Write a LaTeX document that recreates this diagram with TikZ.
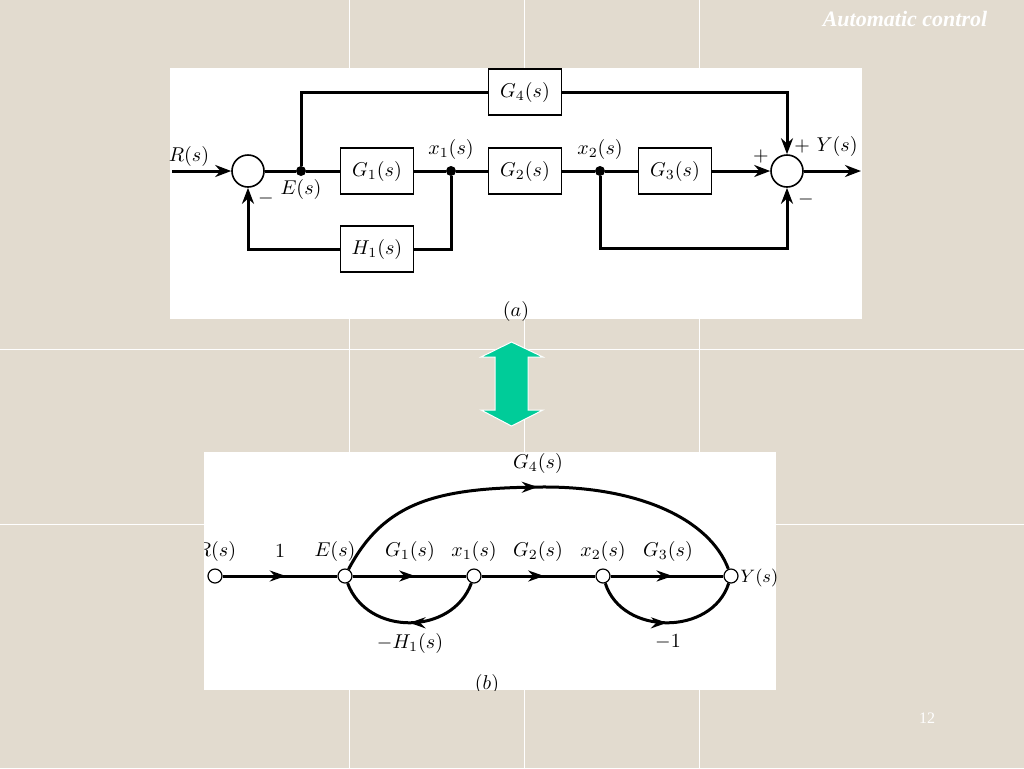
\documentclass[tikz,border=0pt]{standalone}
\usepackage{amsmath, amssymb}
\usepackage{fontspec}
\newfontfamily\slidefont{Liberation Serif}
\usetikzlibrary{arrows.meta,decorations.markings}
\definecolor{slidebg}{RGB}{226,219,207}
\definecolor{arrowgreen}{RGB}{0,204,153}
\tikzset{
  every node/.style={font=\fontsize{10}{12}\selectfont},
  block/.style={draw,line width=0.9pt,minimum width=36.5pt,minimum height=23pt,inner sep=0pt},
  sumjn/.style={draw,circle,line width=0.8pt,minimum size=16pt,inner sep=0pt},
  dotjn/.style={circle,fill,minimum size=5pt,inner sep=0pt},
  sig/.style={line width=1.5pt},
  arr/.style={sig,-{Stealth[length=8pt,width=6pt]}},
  sfnode/.style={draw,circle,fill=white,line width=0.6pt,minimum size=7pt,inner sep=0pt},
  branch/.style={sig,postaction={decorate},
    decoration={markings,mark=at position #1 with {\arrow{Stealth[length=8pt,width=5.5pt]}}}},
  branch/.default=0.55
}
\begin{document}
\begin{tikzpicture}[x=0.5pt,y=-0.5pt]
\useasboundingbox (0,0) rectangle (1024,768);
% slide background
\fill[slidebg] (0,0) rectangle (1024,768);
\draw[white,line width=0.4pt] (349,0) -- (349,768) (524,0) -- (524,768) (699,0) -- (699,768)
	(0,349) -- (1024,349) (0,524) -- (1024,524);
\path (905,19) node(title) {\slidefont\fontsize{11}{13}\selectfont\bfseries\itshape\color{white}Automatic control}
	(927,718) node(page) {\slidefont\fontsize{8}{10}\selectfont\color{white}12};

% (a) block diagram
\fill[white] (170,68) rectangle (862,319);
\path (248,171) node[sumjn](s1) {}
	(301,171) node[dotjn](e) {}
	(377,171) node[block](g1) {$G_1(s)$}
	(451,171) node[dotjn](x1) {}
	(525,171) node[block](g2) {$G_2(s)$}
	(600,171) node[dotjn](x2) {}
	(675,171) node[block](g3) {$G_3(s)$}
	(787,171) node[sumjn](s2) {}
	(525,92) node[block](g4) {$G_4(s)$}
	(377,249) node[block](h1) {$H_1(s)$}
	;
\coordinate (rin) at (172,171);
\coordinate (yout) at (861,171);
\coordinate (fb2) at (787,248);
\draw[arr] (rin) -- (s1);
\draw[sig] (s1) -- (e) -- (g1);
\draw[sig] (g1) -- (x1) -- (g2) -- (x2) -- (g3);
\draw[arr] (g3) -- (s2);
\draw[arr] (s2) -- (yout);
\draw[sig] (e) |- (g4);
\draw[arr] (g4) -| (s2);
\draw[sig] (x1) |- (h1);
\draw[arr] (h1) -| (s1);
\draw[arr] (x2) |- (fb2) -- (s2);
\path (189,156) node(lR) {$R(s)$}
	(301,189) node(lE) {$E(s)$}
	(451,149) node(lx1) {$x_1(s)$}
	(600,149) node(lx2) {$x_2(s)$}
	(266,198) node(m1) {$-$}
	(761,156) node(p2) {$+$}
	(826,146) node(lY) {$+\ Y(s)$}
	(806,199) node(m2) {$-$}
	(516,311) node(la) {$(a)$};

% double arrow
\filldraw[fill=arrowgreen,draw=white,line width=0.5pt] (511.5,342) -- (543,357) -- (528,357) -- (528,410)
	-- (543,410) -- (511.5,426) -- (481,410) -- (495,410) -- (495,357) -- (481,357) -- cycle;

% (b) signal flow graph
\fill[white] (204,452) rectangle (776,690);
\begin{scope}
\clip (204,452) rectangle (776,690);
\path (215,576) node[sfnode](R) {}
	(345,576) node[sfnode](E) {}
	(474,576) node[sfnode](X1) {}
	(603,576) node[sfnode](X2) {}
	(731,576) node[sfnode](Y) {}
	;
\draw[branch] (R) -- (E);
\draw[branch] (E) -- (X1);
\draw[branch] (X1) -- (X2);
\draw[branch] (X2) -- (Y);
\draw[branch=0.5] (E) .. controls (385,500) and (440,488) .. (540,487)
	.. controls (640,486) and (710,520) .. (Y);
\draw[branch=0.5] (X1) .. controls (452,636) and (367,636) .. (E);
\draw[branch=0.5] (X2) .. controls (622,636) and (712,636) .. (Y);
\path (216,551) node(tR) {$R(s)$}
	(280,551) node(t1) {$1$}
	(335,551) node(tE) {$E(s)$}
	(410,551) node(tG1) {$G_1(s)$}
	(474,551) node(tx1) {$x_1(s)$}
	(538,551) node(tG2) {$G_2(s)$}
	(603,551) node(tx2) {$x_2(s)$}
	(668,551) node(tG3) {$G_3(s)$}
	(740,578) node[anchor=west,inner sep=0pt,font=\fontsize{9}{11}\selectfont](tY) {$Y(s)$}
	(538,463) node(tG4) {$G_4(s)$}
	(410,643) node(tH1) {$-H_1(s)$}
	(668,642) node(tm1) {$-1$}
	(487,684) node(lb) {$(b)$};
\end{scope}
\end{tikzpicture}
\end{document}
